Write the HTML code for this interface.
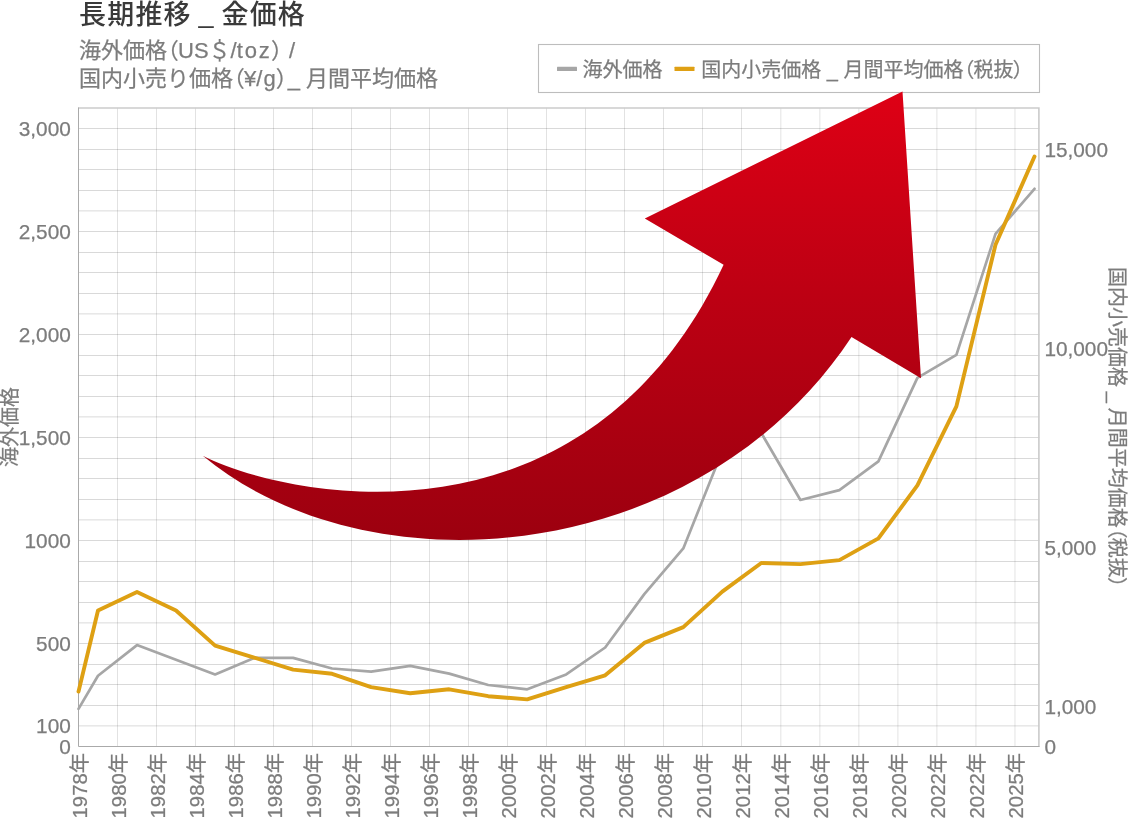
<!DOCTYPE html>
<html lang="ja"><head><meta charset="utf-8"><title>長期推移 _ 金価格</title>
<style>html,body{margin:0;padding:0;background:#fff;}body{width:1128px;height:819px;overflow:hidden;position:relative;font-family:"Liberation Sans", "Noto Sans CJK JP", sans-serif;}
svg{position:absolute;left:0;top:0;display:block;will-change:transform;}.ttl,.sub{will-change:transform;}
svg text{font-family:"Liberation Sans", "Noto Sans CJK JP", sans-serif;}
.t{fill:#7c7c7c;font-size:20px;stroke:#7c7c7c;stroke-width:0.25px;}
.ttl{position:absolute;left:79px;top:-4px;word-spacing:-2px;letter-spacing:1.2px;font-size:27px;font-weight:500;color:#3a3a3a;white-space:nowrap;line-height:38px;}
.sub{position:absolute;left:78.6px;top:37px;font-size:22px;color:#7c7c7c;-webkit-text-stroke:0.25px #7c7c7c;white-space:nowrap;line-height:28px;}
.p{font-feature-settings:"palt" 1;}
</style></head><body>
<div class="ttl">長期推移 <span style="position:relative;top:-2px">_</span> 金価格</div>
<div class="sub"><div>海外価格<span class="p">（</span>US＄/<span style="letter-spacing:1.9px">toz</span><span class="p">）</span> /</div><div>国内小売り価格<span class="p">（</span>¥<span style="letter-spacing:1px">/g</span><span class="p">）</span>_ 月間平均価格</div></div>
<svg width="1128" height="819" viewBox="0 0 1128 819">
<defs><linearGradient id="ag" gradientUnits="userSpaceOnUse" x1="0" y1="92" x2="0" y2="541"><stop offset="0" stop-color="#de0015"/><stop offset="0.45" stop-color="#bd0013"/><stop offset="1" stop-color="#9c000f"/></linearGradient></defs>
<path d="M117.50 107.80V746.50M156.50 107.80V746.50M195.50 107.80V746.50M234.50 107.80V746.50M273.50 107.80V746.50M312.50 107.80V746.50M351.50 107.80V746.50M390.50 107.80V746.50M429.50 107.80V746.50M468.50 107.80V746.50M507.50 107.80V746.50M546.50 107.80V746.50M585.50 107.80V746.50M624.50 107.80V746.50M663.50 107.80V746.50M702.50 107.80V746.50M741.50 107.80V746.50M780.84 107.80V746.50M819.86 107.80V746.50M858.88 107.80V746.50M897.90 107.80V746.50M936.92 107.80V746.50M975.94 107.80V746.50M1014.96 107.80V746.50" fill="none" stroke="#000" stroke-opacity="0.115" stroke-width="1"/>
<path d="M78.50 725.90H1039.40M78.50 705.50H1039.40M78.50 684.50H1039.40M78.50 664.50H1039.40M78.50 643.50H1039.40M78.50 622.90H1039.40M78.50 602.50H1039.40M78.50 581.50H1039.40M78.50 561.50H1039.40M78.50 540.50H1039.40M78.50 519.90H1039.40M78.50 499.50H1039.40M78.50 478.50H1039.40M78.50 458.50H1039.40M78.50 437.50H1039.40M78.50 416.90H1039.40M78.50 396.50H1039.40M78.50 375.50H1039.40M78.50 355.50H1039.40M78.50 334.50H1039.40M78.50 313.90H1039.40M78.50 293.50H1039.40M78.50 272.50H1039.40M78.50 252.50H1039.40M78.50 231.50H1039.40M78.50 210.90H1039.40M78.50 190.50H1039.40M78.50 169.50H1039.40M78.50 149.50H1039.40M78.50 128.50H1039.40" fill="none" stroke="#000" stroke-opacity="0.15" stroke-width="1"/>
<path d="M78.50 108.05H1038.90V746.50" fill="none" stroke="#cbcbcb" stroke-width="1.6"/>
<path d="M78.50 107.40V746.50H1039.60" fill="none" stroke="#aaaaaa" stroke-width="1"/>
<polyline points="78.5,708.9 98.0,675.7 137.0,645.1 176.0,659.7 215.1,674.4 254.1,657.9 293.1,657.9 332.1,668.5 371.1,671.7 410.2,665.9 449.2,673.6 488.2,685.0 527.2,689.3 566.2,674.4 605.2,647.5 644.3,594.1 683.3,548.4 722.3,451.0 761.3,433.0 800.4,500.0 839.4,490.1 878.4,461.4 917.4,377.9 956.4,354.8 995.5,233.9 1034.5,188.8" fill="none" stroke="#a6a6a6" stroke-width="2.7" stroke-linejoin="round" stroke-linecap="round"/>
<polyline points="78.5,691.6 98.0,610.5 137.0,591.9 176.0,610.5 215.1,645.6 254.1,657.6 293.1,669.6 332.1,673.8 371.1,687.1 410.2,693.2 449.2,689.3 488.2,696.2 527.2,699.4 566.2,687.1 605.2,675.3 644.3,642.9 683.3,627.1 722.3,591.6 761.3,563.0 800.4,564.1 839.4,560.1 878.4,538.4 917.4,485.4 956.4,406.4 995.5,244.7 1034.5,156.5" fill="none" stroke="#dea013" stroke-width="3.9" stroke-linejoin="round" stroke-linecap="round"/>
<rect x="538.5" y="44.5" width="501" height="48" fill="#fff" fill-opacity="0" stroke="#bdbdbd" stroke-width="1.1"/>
<rect x="557" y="66.8" width="20" height="4.2" rx="0.5" fill="#a6a6a6"/>
<rect x="674.5" y="66.8" width="20" height="4.2" rx="0.5" fill="#dfa014"/>
<text x="582.5" y="77.2" class="t" style="font-size:20px">海外価格</text>
<text x="701.3" y="77.2" class="t" style="font-size:20px">国内小売価格 _ 月間平均価格<tspan class="p">（</tspan>税抜<tspan class="p">）</tspan></text>
<path d="M202.8 455.7C282.8 496.9 584.8 561.7 723.6 264.8L644.8 218.4L902.5 91.6L921 378.2L851.5 336.9C697.4 569.7 366.2 592.2 202.8 455.7Z" fill="url(#ag)"/>
<text x="70.8" y="135.9" text-anchor="end" class="t" style="font-size:20.8px">3,000</text>
<text x="70.8" y="238.9" text-anchor="end" class="t" style="font-size:20.8px">2,500</text>
<text x="70.8" y="341.9" text-anchor="end" class="t" style="font-size:20.8px">2,000</text>
<text x="70.8" y="444.9" text-anchor="end" class="t" style="font-size:20.8px">1,500</text>
<text x="70.8" y="548.0" text-anchor="end" class="t" style="font-size:20.8px">1000</text>
<text x="70.8" y="651.0" text-anchor="end" class="t" style="font-size:20.8px">500</text>
<text x="70.8" y="733.4" text-anchor="end" class="t" style="font-size:20.8px">100</text>
<text x="70.8" y="754.0" text-anchor="end" class="t" style="font-size:20.8px">0</text>
<text x="1044.4" y="156.9" class="t" style="font-size:20.8px">15,000</text>
<text x="1044.4" y="355.9" class="t" style="font-size:20.8px">10,000</text>
<text x="1044.4" y="555.0" class="t" style="font-size:20.8px">5,000</text>
<text x="1044.4" y="714.2" class="t" style="font-size:20.8px">1,000</text>
<text x="1044.4" y="754.0" class="t" style="font-size:20.8px">0</text>
<text transform="translate(86.6 753) rotate(-90)" text-anchor="end" class="t" style="font-size:20.3px">1978年</text>
<text transform="translate(125.6 753) rotate(-90)" text-anchor="end" class="t" style="font-size:20.3px">1980年</text>
<text transform="translate(164.6 753) rotate(-90)" text-anchor="end" class="t" style="font-size:20.3px">1982年</text>
<text transform="translate(203.6 753) rotate(-90)" text-anchor="end" class="t" style="font-size:20.3px">1984年</text>
<text transform="translate(242.7 753) rotate(-90)" text-anchor="end" class="t" style="font-size:20.3px">1986年</text>
<text transform="translate(281.7 753) rotate(-90)" text-anchor="end" class="t" style="font-size:20.3px">1988年</text>
<text transform="translate(320.7 753) rotate(-90)" text-anchor="end" class="t" style="font-size:20.3px">1990年</text>
<text transform="translate(359.7 753) rotate(-90)" text-anchor="end" class="t" style="font-size:20.3px">1992年</text>
<text transform="translate(398.7 753) rotate(-90)" text-anchor="end" class="t" style="font-size:20.3px">1994年</text>
<text transform="translate(437.8 753) rotate(-90)" text-anchor="end" class="t" style="font-size:20.3px">1996年</text>
<text transform="translate(476.8 753) rotate(-90)" text-anchor="end" class="t" style="font-size:20.3px">1998年</text>
<text transform="translate(515.8 753) rotate(-90)" text-anchor="end" class="t" style="font-size:20.3px">2000年</text>
<text transform="translate(554.8 753) rotate(-90)" text-anchor="end" class="t" style="font-size:20.3px">2002年</text>
<text transform="translate(593.8 753) rotate(-90)" text-anchor="end" class="t" style="font-size:20.3px">2004年</text>
<text transform="translate(632.9 753) rotate(-90)" text-anchor="end" class="t" style="font-size:20.3px">2006年</text>
<text transform="translate(671.9 753) rotate(-90)" text-anchor="end" class="t" style="font-size:20.3px">2008年</text>
<text transform="translate(710.9 753) rotate(-90)" text-anchor="end" class="t" style="font-size:20.3px">2010年</text>
<text transform="translate(749.9 753) rotate(-90)" text-anchor="end" class="t" style="font-size:20.3px">2012年</text>
<text transform="translate(788.9 753) rotate(-90)" text-anchor="end" class="t" style="font-size:20.3px">2014年</text>
<text transform="translate(828.0 753) rotate(-90)" text-anchor="end" class="t" style="font-size:20.3px">2016年</text>
<text transform="translate(867.0 753) rotate(-90)" text-anchor="end" class="t" style="font-size:20.3px">2018年</text>
<text transform="translate(906.0 753) rotate(-90)" text-anchor="end" class="t" style="font-size:20.3px">2020年</text>
<text transform="translate(945.0 753) rotate(-90)" text-anchor="end" class="t" style="font-size:20.3px">2022年</text>
<text transform="translate(984.0 753) rotate(-90)" text-anchor="end" class="t" style="font-size:20.3px">2022年</text>
<text transform="translate(1023.1 753) rotate(-90)" text-anchor="end" class="t" style="font-size:20.3px">2025年</text>
<text transform="translate(17 427) rotate(-90)" text-anchor="middle" class="t" style="font-size:20px">海外価格</text>
<text transform="translate(1110 427.3) rotate(90)" text-anchor="middle" class="t" style="font-size:20px;word-spacing:-0.7px">国内小売価格 _ 月間平均価格<tspan class="p">（</tspan>税抜<tspan class="p">）</tspan></text>
</svg></body></html>
